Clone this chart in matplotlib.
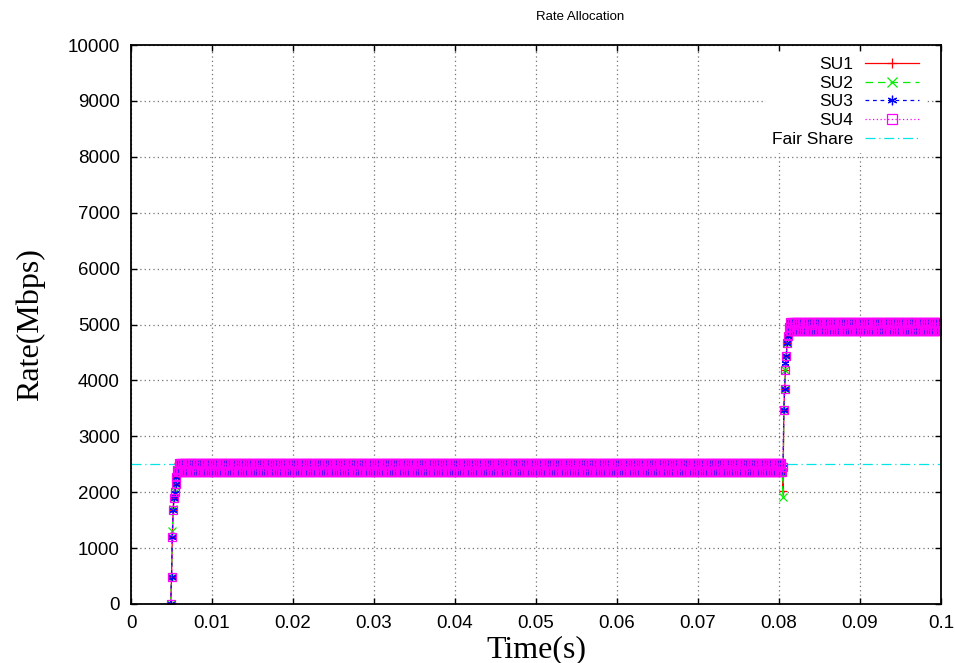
import numpy as np
import matplotlib
matplotlib.use("Agg")
import matplotlib.pyplot as plt

# ---- data (time step 0.1 ms) ----
t_start, t_end, t_step = 0.0049, 0.1000, 0.0001

# first ramp-up, 0.0049 .. 0.0057 s
su1_rise1 = [0, 480, 1200, 1680, 1900, 2000, 2150, 2280, 2400]
su2_rise1 = [0, 480, 1300, 1700, 1900, 2000, 2150, 2280, 2400]
su3_rise1 = [0, 480, 1200, 1680, 1900, 1990, 2150, 2280, 2400]
su4_rise1 = [0, 480, 1200, 1680, 1900, 2000, 2150, 2280, 2400]

# oscillation on the first plateau (values alternate)
su1_plat1 = [2530, 2370]
su2_plat1 = [2370, 2530]
su3_plat1 = [2530, 2370]
su4_plat1 = [2370, 2530]
plat1_len = 747  # 0.0058 .. 0.0804 s

# dip + second ramp-up, 0.0805 .. 0.0812 s
su1_rise2 = [2020, 3470, 3850, 4190, 4440, 4670, 4790, 4950]
su2_rise2 = [1910, 3470, 3850, 4190, 4440, 4670, 4790, 4950]
su3_rise2 = [2450, 3470, 3850, 4310, 4440, 4670, 4790, 4950]
su4_rise2 = [2450, 3470, 3850, 4190, 4440, 4670, 4790, 4950]

# oscillation on the second plateau
su1_plat2 = [5050, 4880]
su2_plat2 = [4880, 5050]
su3_plat2 = [5050, 4880]
su4_plat2 = [4880, 5050]

fair_share = 2500

x_ticks = [0, 0.01, 0.02, 0.03, 0.04, 0.05, 0.06, 0.07, 0.08, 0.09, 0.1]
x_labels = ["0", "0.01", "0.02", "0.03", "0.04", "0.05", "0.06", "0.07", "0.08", "0.09", "0.1"]
y_ticks = list(range(0, 10001, 1000))


t = np.round(np.arange(t_start, t_end + t_step / 2, t_step), 4)


def build(rise1, plat1, rise2, plat2):
    n2 = len(t) - len(rise1) - plat1_len - len(rise2)
    return np.concatenate([
        rise1,
        np.tile(plat1, plat1_len // 2 + 1)[:plat1_len],
        rise2,
        np.tile(plat2, n2 // 2 + 1)[:n2],
    ])


series = [
    ("SU1", build(su1_rise1, su1_plat1, su1_rise2, su1_plat2), "#ff0000", "-", "+"),
    ("SU2", build(su2_rise1, su2_plat1, su2_rise2, su2_plat2), "#00ee00", (0, (6, 4)), "x"),
    ("SU3", build(su3_rise1, su3_plat1, su3_rise2, su3_plat2), "#0000ff", (0, (3, 3)), (6, 2, 0)),
    ("SU4", build(su4_rise1, su4_plat1, su4_rise2, su4_plat2), "#ff00ff", (0, (1, 2)), "s"),
]

plt.rcParams["font.family"] = ["Liberation Sans", "DejaVu Sans"]

fig = plt.figure(figsize=(9.55, 6.63), dpi=100)
ax = fig.add_axes([0.1372, 0.0890, 0.8481, 0.8431])

ax.plot([0, 0.1], [fair_share, fair_share], color="#00e5e5", zorder=1.5,
        linestyle=(0, (8, 3, 1, 3)), linewidth=0.9, label="Fair Share")

for name, vals, col, ls, mk in series:
    ax.plot(t, vals, color=col, linestyle=ls, linewidth=0.9, marker=mk,
            markersize=5.5, markerfacecolor="none", markeredgewidth=0.9, label=name)

ax.set_xlim(0, 0.1)
ax.set_ylim(0, 10000)
ax.set_xticks(x_ticks)
ax.set_xticklabels(x_labels)
ax.set_yticks(y_ticks)
ax.tick_params(direction="in", length=4.5, width=1, top=True, right=True,
               labelsize=13.5, pad=8)
ax.grid(True, color="0.45", linestyle=(0, (1, 2.5)), linewidth=0.9)
ax.set_axisbelow(True)
for sp in ax.spines.values():
    sp.set_linewidth(1.3)

ax.set_xlabel("Time(s)", family="Liberation Serif", fontsize=23, labelpad=2)
ax.set_ylabel("Rate(Mbps)", family="Liberation Serif", fontsize=23, labelpad=16)
fig.text(0.607, 1 - 17 / 663, "Rate Allocation", ha="center", va="center", fontsize=9.5)

# legend order as in the reference: SU1..SU4 then Fair Share
handles, labels = ax.get_legend_handles_labels()
handles = handles[1:] + handles[:1]
labels = labels[1:] + labels[:1]
leg = ax.legend(handles, labels, loc="upper right", bbox_to_anchor=(0.979, 0.988),
                markerfirst=False, frameon=True, fancybox=False,
                edgecolor="white", facecolor="white", framealpha=1, fontsize=12.5,
                handlelength=3.1, labelspacing=0.2, borderaxespad=0.0,
                handletextpad=0.7, borderpad=0.3, markerscale=1.25)
for txt in leg.get_texts():
    txt.set_ha("right")
leg._legend_box.align = "right"

fig.savefig("out.png", dpi=100)
